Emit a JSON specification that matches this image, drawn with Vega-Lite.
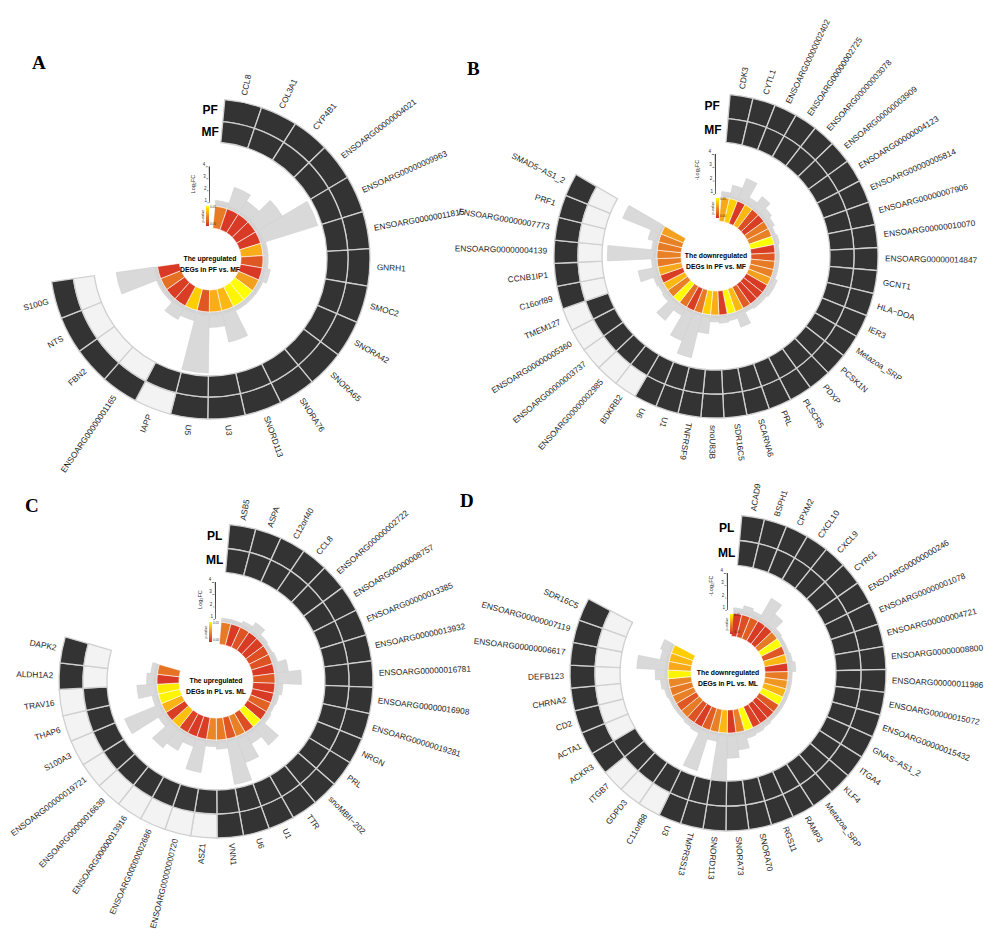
{
"$schema": "https://vega.github.io/schema/vega-lite/v6.json",
"padding": 0,
"background": "white",
"bounds": "flush",
"align": "each",
"columns": 2,
"spacing": 0,
"config": {"view": {"stroke": null}, "font": "Liberation Sans"},
"resolve": {"scale": {"color": "independent"}, "legend": {"color": "independent"}},
"datasets": {
"ticks": [{"v": 1}, {"v": 2}, {"v": 3}, {"v": 4}],
"A": [
{"gene":"CCL8","outer":1,"inner":1,"p":0.02,"fc":1.2},
{"gene":"COL3A1","outer":1,"inner":1,"p":0.003,"fc":2.6},
{"gene":"CYP4B1","outer":1,"inner":1,"p":0.003,"fc":2.0},
{"gene":"ENSOARG00000004021","outer":1,"inner":1,"p":0.003,"fc":3.3},
{"gene":"ENSOARG00000009963","outer":1,"inner":1,"p":0.003,"fc":5.7},
{"gene":"ENSOARG00000011815","outer":1,"inner":1,"p":0.033,"fc":1.15},
{"gene":"GNRH1","outer":1,"inner":1,"p":0.01,"fc":1.15},
{"gene":"SMOC2","outer":1,"inner":1,"p":0.003,"fc":1.4},
{"gene":"SNORA42","outer":1,"inner":1,"p":0.03,"fc":1.1},
{"gene":"SNORA65","outer":1,"inner":1,"p":0.05,"fc":1.1},
{"gene":"SNORA76","outer":1,"inner":1,"p":0.048,"fc":1.1},
{"gene":"SNORD113","outer":1,"inner":1,"p":0.035,"fc":3.4},
{"gene":"U3","outer":1,"inner":1,"p":0.033,"fc":2.0},
{"gene":"U5","outer":1,"inner":1,"p":0.01,"fc":5.8},
{"gene":"IAPP","outer":0,"inner":1,"p":0.04,"fc":1.6},
{"gene":"ENSOARG00000001165","outer":1,"inner":0,"p":0.004,"fc":2.0},
{"gene":"FBN2","outer":1,"inner":0,"p":0.004,"fc":1.1},
{"gene":"NTS","outer":1,"inner":0,"p":0.017,"fc":1.1},
{"gene":"S100G","outer":1,"inner":0,"p":0.003,"fc":4.2}
],
"B": [
{"gene":"CDK3","outer":1,"inner":1,"p":0.032,"fc":1.2},
{"gene":"CYTL1","outer":1,"inner":1,"p":0.04,"fc":1.8},
{"gene":"ENSOARG00000002402","outer":1,"inner":1,"p":0.003,"fc":2.6},
{"gene":"ENSOARG00000002725","outer":1,"inner":1,"p":0.035,"fc":1.4},
{"gene":"ENSOARG00000003078","outer":1,"inner":1,"p":0.008,"fc":2.0},
{"gene":"ENSOARG00000003909","outer":1,"inner":1,"p":0.004,"fc":1.5},
{"gene":"ENSOARG00000004123","outer":1,"inner":1,"p":0.02,"fc":1.3},
{"gene":"ENSOARG00000005814","outer":1,"inner":1,"p":0.022,"fc":1.1},
{"gene":"ENSOARG00000007906","outer":1,"inner":1,"p":0.05,"fc":1.2},
{"gene":"ENSOARG00000010070","outer":1,"inner":1,"p":0.004,"fc":1.1},
{"gene":"ENSOARG00000014847","outer":1,"inner":1,"p":0.01,"fc":1.1},
{"gene":"GCNT1","outer":1,"inner":1,"p":0.02,"fc":1.1},
{"gene":"HLA−DOA","outer":1,"inner":1,"p":0.022,"fc":1.1},
{"gene":"IER3","outer":1,"inner":1,"p":0.03,"fc":1.3},
{"gene":"Metazoa_SRP","outer":1,"inner":1,"p":0.003,"fc":1.3},
{"gene":"PCSK1N","outer":1,"inner":1,"p":0.004,"fc":1.2},
{"gene":"PDXP","outer":1,"inner":1,"p":0.003,"fc":1.2},
{"gene":"PLSCR5","outer":1,"inner":1,"p":0.012,"fc":1.1},
{"gene":"PRL","outer":1,"inner":1,"p":0.035,"fc":2.0},
{"gene":"SCARNA6","outer":1,"inner":1,"p":0.048,"fc":1.3},
{"gene":"SDR16C5","outer":1,"inner":1,"p":0.004,"fc":1.4},
{"gene":"snoU83B","outer":1,"inner":1,"p":0.033,"fc":1.3},
{"gene":"TNFRSF9","outer":1,"inner":1,"p":0.04,"fc":2.2},
{"gene":"U1","outer":1,"inner":1,"p":0.02,"fc":4.2},
{"gene":"U6","outer":1,"inner":1,"p":0.004,"fc":3.2},
{"gene":"BDKRB2","outer":0,"inner":1,"p":0.018,"fc":1.5},
{"gene":"ENSOARG00000002985","outer":0,"inner":1,"p":0.05,"fc":2.5},
{"gene":"ENSOARG00000003737","outer":0,"inner":1,"p":0.022,"fc":1.3},
{"gene":"ENSOARG00000005360","outer":0,"inner":1,"p":0.035,"fc":1.2},
{"gene":"TMEM127","outer":0,"inner":1,"p":0.004,"fc":1.3},
{"gene":"C16orf89","outer":1,"inner":0,"p":0.032,"fc":2.3},
{"gene":"CCNB1IP1","outer":1,"inner":0,"p":0.02,"fc":1.2},
{"gene":"ENSOARG00000004139","outer":1,"inner":0,"p":0.022,"fc":4.5},
{"gene":"ENSOARG00000007773","outer":1,"inner":0,"p":0.02,"fc":1.2},
{"gene":"PRF1","outer":1,"inner":0,"p":0.022,"fc":1.6},
{"gene":"SMAD5−AS1_2","outer":1,"inner":0,"p":0.03,"fc":3.9}
],
"C": [
{"gene":"ASB5","outer":1,"inner":1,"p":0.02,"fc":1.1},
{"gene":"ASPA","outer":1,"inner":1,"p":0.003,"fc":1.1},
{"gene":"C12orf40","outer":1,"inner":1,"p":0.009,"fc":1.3},
{"gene":"CCL8","outer":1,"inner":1,"p":0.003,"fc":1.7},
{"gene":"ENSOARG00000002722","outer":1,"inner":1,"p":0.004,"fc":1.2},
{"gene":"ENSOARG00000008757","outer":1,"inner":1,"p":0.008,"fc":1.1},
{"gene":"ENSOARG00000013385","outer":1,"inner":1,"p":0.009,"fc":1.2},
{"gene":"ENSOARG00000013932","outer":1,"inner":1,"p":0.003,"fc":1.9},
{"gene":"ENSOARG00000016781","outer":1,"inner":1,"p":0.01,"fc":2.9},
{"gene":"ENSOARG00000016908","outer":1,"inner":1,"p":0.004,"fc":1.4},
{"gene":"ENSOARG00000019281","outer":1,"inner":1,"p":0.003,"fc":1.2},
{"gene":"NRGN","outer":1,"inner":1,"p":0.013,"fc":1.1},
{"gene":"PRL","outer":1,"inner":1,"p":0.004,"fc":1.2},
{"gene":"snoMBII−202","outer":1,"inner":1,"p":0.05,"fc":2.7},
{"gene":"TTR","outer":1,"inner":1,"p":0.008,"fc":1.8},
{"gene":"U1","outer":1,"inner":1,"p":0.022,"fc":3.0},
{"gene":"U6","outer":1,"inner":1,"p":0.01,"fc":4.5},
{"gene":"VNN1","outer":1,"inner":1,"p":0.02,"fc":1.5},
{"gene":"ASZ1","outer":0,"inner":1,"p":0.024,"fc":1.3},
{"gene":"ENSOARG00000000720","outer":0,"inner":1,"p":0.004,"fc":3.5},
{"gene":"ENSOARG00000002686","outer":0,"inner":1,"p":0.003,"fc":1.6},
{"gene":"ENSOARG00000013916","outer":0,"inner":1,"p":0.005,"fc":2.4},
{"gene":"ENSOARG00000016639","outer":0,"inner":1,"p":0.037,"fc":2.9},
{"gene":"ENSOARG00000019721","outer":0,"inner":1,"p":0.004,"fc":1.5},
{"gene":"S100A3","outer":0,"inner":1,"p":0.034,"fc":4.0},
{"gene":"THAP6","outer":0,"inner":1,"p":0.048,"fc":1.3},
{"gene":"TRAV16","outer":0,"inner":1,"p":0.046,"fc":2.4},
{"gene":"ALDH1A2","outer":1,"inner":0,"p":0.003,"fc":1.6},
{"gene":"DAPK2","outer":1,"inner":0,"p":0.018,"fc":1.3}
],
"D": [
{"gene":"ACAD9","outer":1,"inner":1,"p":0.003,"fc":1.2},
{"gene":"BSPH1","outer":1,"inner":1,"p":0.008,"fc":1.5},
{"gene":"CPXM2","outer":1,"inner":1,"p":0.012,"fc":1.3},
{"gene":"CXCL10","outer":1,"inner":1,"p":0.003,"fc":2.9},
{"gene":"CXCL9","outer":1,"inner":1,"p":0.004,"fc":2.0},
{"gene":"CYR61","outer":1,"inner":1,"p":0.02,"fc":1.2},
{"gene":"ENSOARG00000000246","outer":1,"inner":1,"p":0.05,"fc":1.1},
{"gene":"ENSOARG00000001078","outer":1,"inner":1,"p":0.01,"fc":1.1},
{"gene":"ENSOARG00000004721","outer":1,"inner":1,"p":0.035,"fc":1.2},
{"gene":"ENSOARG00000008800","outer":1,"inner":1,"p":0.003,"fc":1.4},
{"gene":"ENSOARG00000011986","outer":1,"inner":1,"p":0.02,"fc":1.1},
{"gene":"ENSOARG00000015072","outer":1,"inner":1,"p":0.028,"fc":1.1},
{"gene":"ENSOARG00000015432","outer":1,"inner":1,"p":0.034,"fc":1.1},
{"gene":"GNAS−AS1_2","outer":1,"inner":1,"p":0.05,"fc":1.1},
{"gene":"ITGA4","outer":1,"inner":1,"p":0.01,"fc":1.1},
{"gene":"KLF4","outer":1,"inner":1,"p":0.004,"fc":1.1},
{"gene":"Metazoa_SRP","outer":1,"inner":1,"p":0.003,"fc":1.2},
{"gene":"RAMP3","outer":1,"inner":1,"p":0.005,"fc":1.3},
{"gene":"RGS11","outer":1,"inner":1,"p":0.05,"fc":1.4},
{"gene":"SNORA70","outer":1,"inner":1,"p":0.022,"fc":2.2},
{"gene":"SNORA73","outer":1,"inner":1,"p":0.003,"fc":2.8},
{"gene":"SNORD113","outer":1,"inner":1,"p":0.035,"fc":4.6},
{"gene":"TMPRSS13","outer":1,"inner":1,"p":0.022,"fc":1.5},
{"gene":"U3","outer":1,"inner":1,"p":0.012,"fc":4.2},
{"gene":"C11orf88","outer":0,"inner":1,"p":0.004,"fc":1.3},
{"gene":"GDPD3","outer":0,"inner":1,"p":0.009,"fc":1.2},
{"gene":"ITGB7","outer":0,"inner":1,"p":0.02,"fc":1.1},
{"gene":"ACKR3","outer":1,"inner":1,"p":0.01,"fc":1.1},
{"gene":"ACTA1","outer":1,"inner":0,"p":0.022,"fc":1.1},
{"gene":"CD2","outer":1,"inner":0,"p":0.02,"fc":1.2},
{"gene":"CHRNA2","outer":1,"inner":0,"p":0.024,"fc":1.4},
{"gene":"DEFB123","outer":1,"inner":0,"p":0.048,"fc":1.8},
{"gene":"ENSOARG00000006617","outer":1,"inner":0,"p":0.032,"fc":3.3},
{"gene":"ENSOARG00000007119","outer":1,"inner":0,"p":0.035,"fc":1.5},
{"gene":"SDR16C5","outer":1,"inner":0,"p":0.04,"fc":1.7}
]
},
"concat": [
{
"width": 420, "height": 518,
"title": {"text": "A", "anchor": "start", "frame": "group", "orient": "top", "offset": -88, "dx": 32, "baseline": "alphabetic", "font": "Liberation Serif", "fontSize": 19, "fontWeight": "bold", "color": "black"},
"data": {"name": "A"},
"transform": [
{"window": [{"op": "row_number", "as": "k"}]},
{"calculate": "5.3 + (datum.k - 1) * 13.5", "as": "t0"},
{"calculate": "datum.t0 + 13.5", "as": "t1"},
{"calculate": "datum.t0 + 6.75", "as": "tm"},
{"calculate": "datum.tm < 195 ? datum.tm - 90 : datum.tm + 90", "as": "ang"}
],
"layer": [
{"mark": {"type": "arc", "radius": 160, "radius2": 138, "stroke": "#d0d0d0", "strokeWidth": 1.3},
 "encoding": {"theta": {"field": "t0", "type": "quantitative", "stack": null, "scale": {"type": "linear", "domain": [0, 360], "range": [0, 6.2831853]}}, "theta2": {"field": "t1"},
  "fill": {"condition": {"test": "datum.outer == 1", "value": "#333333"}, "value": "#f3f3f3"}}},
{"mark": {"type": "arc", "radius": 138, "radius2": 117, "stroke": "#d0d0d0", "strokeWidth": 1.3},
 "encoding": {"theta": {"field": "t0", "type": "quantitative", "stack": null, "scale": {"type": "linear", "domain": [0, 360], "range": [0, 6.2831853]}}, "theta2": {"field": "t1"},
  "fill": {"condition": {"test": "datum.inner == 1", "value": "#333333"}, "value": "#f3f3f3"}}},
{"mark": {"type": "arc", "radius": 56.5, "radius2": 53, "fill": "#d3d3d3"},
 "encoding": {"theta": {"field": "t0", "type": "quantitative", "stack": null, "scale": {"type": "linear", "domain": [0, 360], "range": [0, 6.2831853]}}, "theta2": {"field": "t1"}}},
{"mark": {"type": "arc", "radius": 53, "radius2": 31, "stroke": "white", "strokeWidth": 0.6},
 "encoding": {"theta": {"field": "t0", "type": "quantitative", "stack": null, "scale": {"type": "linear", "domain": [0, 360], "range": [0, 6.2831853]}}, "theta2": {"field": "t1"},
  "color": {"field": "p", "type": "quantitative", "scale": {"domain": [0, 0.025, 0.05], "range": ["#d42a26", "#ea8a28", "#ffff00"]},
   "legend": {"orient": "none", "legendX": 201, "legendY": 206, "direction": "vertical", "gradientLength": 20, "gradientThickness": 3, "title": "p-value", "titleOrient": "left", "titleFontSize": 4, "titleFontWeight": "normal", "titleColor": "#333", "titlePadding": 1, "labelFontSize": 3, "labelColor": "#333", "labelOffset": 1, "values": [0, 0.05], "labelOverlap": false, "gradientStrokeWidth": 0}}}},
{"mark": {"type": "arc", "fill": "#d9d9d9", "stroke": "#cccccc", "strokeWidth": 0.5},
 "encoding": {"theta": {"field": "t0", "type": "quantitative", "stack": null, "scale": {"type": "linear", "domain": [0, 360], "range": [0, 6.2831853]}}, "theta2": {"field": "t1"},
  "radius": {"field": "fc", "type": "quantitative", "scale": {"type": "linear", "domain": [1, 4], "range": [56.5, 92.5], "zero": false}}, "radius2": {"datum": 1}}},
{"transform": [{"filter": "datum.tm < 195"}],
 "mark": {"type": "text", "radius": 167, "align": "left", "baseline": "middle", "fontSize": 8.3, "color": "#1e1e1e"},
 "encoding": {"theta": {"field": "tm", "type": "quantitative", "stack": null, "scale": {"type": "linear", "domain": [0, 360], "range": [0, 6.2831853]}}, "text": {"field": "gene"}, "angle": {"field": "ang", "type": "quantitative", "scale": null}}},
{"transform": [{"filter": "datum.tm >= 195"}],
 "mark": {"type": "text", "radius": 167, "align": "right", "baseline": "middle", "fontSize": 8.3, "color": "#1e1e1e"},
 "encoding": {"theta": {"field": "tm", "type": "quantitative", "stack": null, "scale": {"type": "linear", "domain": [0, 360], "range": [0, 6.2831853]}}, "text": {"field": "gene"}, "angle": {"field": "ang", "type": "quantitative", "scale": null}}},
{"data": {"values": [{}]}, "mark": {"type": "text", "text": ["The upregulated", "DEGs in PF vs. MF"], "fontSize": 6.8, "fontWeight": "bold", "lineHeight": 11, "align": "center", "baseline": "middle", "color": "black"}, "encoding": {}},
{"data": {"values": [{}]}, "mark": {"type": "text", "text": "PF", "radius": 149, "align": "right", "baseline": "middle", "fontSize": 12, "fontWeight": "bold", "color": "black"},
 "encoding": {"theta": {"datum": 3, "type": "quantitative", "scale": {"type": "linear", "domain": [0, 360], "range": [0, 6.2831853]}}}},
{"data": {"values": [{}]}, "mark": {"type": "text", "text": "MF", "radius": 127.5, "align": "right", "baseline": "middle", "fontSize": 12, "fontWeight": "bold", "color": "black"},
 "encoding": {"theta": {"datum": 4, "type": "quantitative", "scale": {"type": "linear", "domain": [0, 360], "range": [0, 6.2831853]}}}},
{"data": {"values": [{}]}, "mark": {"type": "arc", "fill": "#222222"},
 "encoding": {"theta": {"datum": -0.75, "type": "quantitative", "scale": {"type": "linear", "domain": [0, 360], "range": [0, 6.2831853]}}, "theta2": {"datum": -0.1},
  "radius": {"datum": 1, "type": "quantitative", "scale": {"type": "linear", "domain": [1, 4], "range": [56.5, 92.5], "zero": false}}, "radius2": {"datum": 4}}},
{"data": {"name": "ticks"}, "transform": [{"calculate": "datum.v - 0.05", "as": "v2"}], "mark": {"type": "arc", "fill": "#555555"},
 "encoding": {"theta": {"datum": -2.6, "type": "quantitative", "scale": {"type": "linear", "domain": [0, 360], "range": [0, 6.2831853]}}, "theta2": {"datum": -1.2},
  "radius": {"field": "v", "type": "quantitative", "scale": {"type": "linear", "domain": [1, 4], "range": [56.5, 92.5], "zero": false}}, "radius2": {"field": "v2"}}},
{"data": {"name": "ticks"}, "mark": {"type": "text", "fontSize": 4.5, "align": "right", "baseline": "bottom", "color": "#333"},
 "encoding": {"theta": {"datum": -3, "type": "quantitative", "scale": {"type": "linear", "domain": [0, 360], "range": [0, 6.2831853]}},
  "radius": {"field": "v", "type": "quantitative", "scale": {"type": "linear", "domain": [1, 4], "range": [56.5, 92.5], "zero": false}}, "text": {"field": "v", "type": "quantitative"}}},
{"data": {"values": [{}]}, "mark": {"type": "text", "text": "Log₂FC", "angle": 270, "fontSize": 5.5, "align": "center", "baseline": "middle", "color": "#333"},
 "encoding": {"theta": {"datum": -13, "type": "quantitative", "scale": {"type": "linear", "domain": [0, 360], "range": [0, 6.2831853]}},
  "radius": {"datum": 2.7, "type": "quantitative", "scale": {"type": "linear", "domain": [1, 4], "range": [56.5, 92.5], "zero": false}}}}
]
},
{
"width": 568, "height": 512,
"title": {"text": "B", "anchor": "start", "frame": "group", "orient": "top", "offset": -94, "dx": 35, "baseline": "alphabetic", "font": "Liberation Serif", "fontSize": 19, "fontWeight": "bold", "color": "black"},
"data": {"name": "B"},
"transform": [
{"window": [{"op": "row_number", "as": "k"}]},
{"calculate": "5 + (datum.k - 1) * 8.2", "as": "t0"},
{"calculate": "datum.t0 + 8.2", "as": "t1"},
{"calculate": "datum.t0 + 4.1", "as": "tm"},
{"calculate": "datum.tm < 208 ? datum.tm - 90 : datum.tm + 90", "as": "ang"}
],
"layer": [
{"mark": {"type": "arc", "radius": 162, "radius2": 138, "stroke": "#d0d0d0", "strokeWidth": 1.3},
 "encoding": {"theta": {"field": "t0", "type": "quantitative", "stack": null, "scale": {"type": "linear", "domain": [0, 360], "range": [0, 6.2831853]}}, "theta2": {"field": "t1"},
  "fill": {"condition": {"test": "datum.outer == 1", "value": "#333333"}, "value": "#f3f3f3"}}},
{"mark": {"type": "arc", "radius": 138, "radius2": 114, "stroke": "#d0d0d0", "strokeWidth": 1.3},
 "encoding": {"theta": {"field": "t0", "type": "quantitative", "stack": null, "scale": {"type": "linear", "domain": [0, 360], "range": [0, 6.2831853]}}, "theta2": {"field": "t1"},
  "fill": {"condition": {"test": "datum.inner == 1", "value": "#333333"}, "value": "#f3f3f3"}}},
{"mark": {"type": "arc", "radius": 62, "radius2": 59, "fill": "#d3d3d3"},
 "encoding": {"theta": {"field": "t0", "type": "quantitative", "stack": null, "scale": {"type": "linear", "domain": [0, 360], "range": [0, 6.2831853]}}, "theta2": {"field": "t1"}}},
{"mark": {"type": "arc", "radius": 59, "radius2": 35, "stroke": "white", "strokeWidth": 0.6},
 "encoding": {"theta": {"field": "t0", "type": "quantitative", "stack": null, "scale": {"type": "linear", "domain": [0, 360], "range": [0, 6.2831853]}}, "theta2": {"field": "t1"},
  "color": {"field": "p", "type": "quantitative", "scale": {"domain": [0, 0.025, 0.05], "range": ["#d42a26", "#ea8a28", "#ffff00"]},
   "legend": {"orient": "none", "legendX": 279, "legendY": 198, "direction": "vertical", "gradientLength": 20, "gradientThickness": 3, "title": "p-value", "titleOrient": "left", "titleFontSize": 4, "titleFontWeight": "normal", "titleColor": "#333", "titlePadding": 1, "labelFontSize": 3, "labelColor": "#333", "labelOffset": 1, "values": [0, 0.05], "labelOverlap": false, "gradientStrokeWidth": 0}}}},
{"mark": {"type": "arc", "fill": "#d9d9d9", "stroke": "#cccccc", "strokeWidth": 0.5},
 "encoding": {"theta": {"field": "t0", "type": "quantitative", "stack": null, "scale": {"type": "linear", "domain": [0, 360], "range": [0, 6.2831853]}}, "theta2": {"field": "t1"},
  "radius": {"field": "fc", "type": "quantitative", "scale": {"type": "linear", "domain": [1, 4], "range": [62, 102], "zero": false}}, "radius2": {"datum": 1}}},
{"transform": [{"filter": "datum.tm < 208"}],
 "mark": {"type": "text", "radius": 169, "align": "left", "baseline": "middle", "fontSize": 8.3, "color": "#1e1e1e"},
 "encoding": {"theta": {"field": "tm", "type": "quantitative", "stack": null, "scale": {"type": "linear", "domain": [0, 360], "range": [0, 6.2831853]}}, "text": {"field": "gene"}, "angle": {"field": "ang", "type": "quantitative", "scale": null}}},
{"transform": [{"filter": "datum.tm >= 208"}],
 "mark": {"type": "text", "radius": 169, "align": "right", "baseline": "middle", "fontSize": 8.3, "color": "#1e1e1e"},
 "encoding": {"theta": {"field": "tm", "type": "quantitative", "stack": null, "scale": {"type": "linear", "domain": [0, 360], "range": [0, 6.2831853]}}, "text": {"field": "gene"}, "angle": {"field": "ang", "type": "quantitative", "scale": null}}},
{"data": {"values": [{}]}, "mark": {"type": "text", "text": ["The downregulated", "DEGs in PF vs. MF"], "fontSize": 6.8, "fontWeight": "bold", "lineHeight": 11, "align": "center", "baseline": "middle", "color": "black"}, "encoding": {}},
{"data": {"values": [{}]}, "mark": {"type": "text", "text": "PF", "radius": 150, "align": "right", "baseline": "middle", "fontSize": 12, "fontWeight": "bold", "color": "black"},
 "encoding": {"theta": {"datum": 1.5, "type": "quantitative", "scale": {"type": "linear", "domain": [0, 360], "range": [0, 6.2831853]}}}},
{"data": {"values": [{}]}, "mark": {"type": "text", "text": "MF", "radius": 126, "align": "right", "baseline": "middle", "fontSize": 12, "fontWeight": "bold", "color": "black"},
 "encoding": {"theta": {"datum": 2.5, "type": "quantitative", "scale": {"type": "linear", "domain": [0, 360], "range": [0, 6.2831853]}}}},
{"data": {"values": [{}]}, "mark": {"type": "arc", "fill": "#222222"},
 "encoding": {"theta": {"datum": -0.7, "type": "quantitative", "scale": {"type": "linear", "domain": [0, 360], "range": [0, 6.2831853]}}, "theta2": {"datum": -0.1},
  "radius": {"datum": 1, "type": "quantitative", "scale": {"type": "linear", "domain": [1, 4], "range": [62, 102], "zero": false}}, "radius2": {"datum": 4}}},
{"data": {"name": "ticks"}, "transform": [{"calculate": "datum.v - 0.05", "as": "v2"}], "mark": {"type": "arc", "fill": "#555555"},
 "encoding": {"theta": {"datum": -2.4, "type": "quantitative", "scale": {"type": "linear", "domain": [0, 360], "range": [0, 6.2831853]}}, "theta2": {"datum": -1.1},
  "radius": {"field": "v", "type": "quantitative", "scale": {"type": "linear", "domain": [1, 4], "range": [62, 102], "zero": false}}, "radius2": {"field": "v2"}}},
{"data": {"name": "ticks"}, "mark": {"type": "text", "fontSize": 4.5, "align": "right", "baseline": "bottom", "color": "#333"},
 "encoding": {"theta": {"datum": -2.8, "type": "quantitative", "scale": {"type": "linear", "domain": [0, 360], "range": [0, 6.2831853]}},
  "radius": {"field": "v", "type": "quantitative", "scale": {"type": "linear", "domain": [1, 4], "range": [62, 102], "zero": false}}, "text": {"field": "v", "type": "quantitative"}}},
{"data": {"values": [{}]}, "mark": {"type": "text", "text": "-Log₂FC", "angle": 270, "fontSize": 5.5, "align": "center", "baseline": "middle", "color": "#333"},
 "encoding": {"theta": {"datum": -12.5, "type": "quantitative", "scale": {"type": "linear", "domain": [0, 360], "range": [0, 6.2831853]}},
  "radius": {"datum": 2.95, "type": "quantitative", "scale": {"type": "linear", "domain": [1, 4], "range": [62, 102], "zero": false}}}}
]
},
{
"width": 432, "height": 326,
"title": {"text": "C", "anchor": "start", "frame": "group", "orient": "top", "offset": -32, "dx": 25, "baseline": "alphabetic", "font": "Liberation Serif", "fontSize": 19, "fontWeight": "bold", "color": "black"},
"data": {"name": "C"},
"transform": [
{"window": [{"op": "row_number", "as": "k"}]},
{"calculate": "5 + (datum.k - 1) * 9.7", "as": "t0"},
{"calculate": "datum.t0 + 9.7", "as": "t1"},
{"calculate": "datum.t0 + 4.85", "as": "tm"},
{"calculate": "datum.tm < 180 ? datum.tm - 90 : datum.tm + 90", "as": "ang"}
],
"layer": [
{"mark": {"type": "arc", "radius": 157, "radius2": 133, "stroke": "#d0d0d0", "strokeWidth": 1.3},
 "encoding": {"theta": {"field": "t0", "type": "quantitative", "stack": null, "scale": {"type": "linear", "domain": [0, 360], "range": [0, 6.2831853]}}, "theta2": {"field": "t1"},
  "fill": {"condition": {"test": "datum.outer == 1", "value": "#333333"}, "value": "#f3f3f3"}}},
{"mark": {"type": "arc", "radius": 133, "radius2": 109, "stroke": "#d0d0d0", "strokeWidth": 1.3},
 "encoding": {"theta": {"field": "t0", "type": "quantitative", "stack": null, "scale": {"type": "linear", "domain": [0, 360], "range": [0, 6.2831853]}}, "theta2": {"field": "t1"},
  "fill": {"condition": {"test": "datum.inner == 1", "value": "#333333"}, "value": "#f3f3f3"}}},
{"mark": {"type": "arc", "radius": 62, "radius2": 59, "fill": "#d3d3d3"},
 "encoding": {"theta": {"field": "t0", "type": "quantitative", "stack": null, "scale": {"type": "linear", "domain": [0, 360], "range": [0, 6.2831853]}}, "theta2": {"field": "t1"}}},
{"mark": {"type": "arc", "radius": 59, "radius2": 37, "stroke": "white", "strokeWidth": 0.6},
 "encoding": {"theta": {"field": "t0", "type": "quantitative", "stack": null, "scale": {"type": "linear", "domain": [0, 360], "range": [0, 6.2831853]}}, "theta2": {"field": "t1"},
  "color": {"field": "p", "type": "quantitative", "scale": {"domain": [0, 0.025, 0.05], "range": ["#d42a26", "#ea8a28", "#ffff00"]},
   "legend": {"orient": "none", "legendX": 204, "legendY": 104, "direction": "vertical", "gradientLength": 20, "gradientThickness": 3, "title": "p-value", "titleOrient": "left", "titleFontSize": 4, "titleFontWeight": "normal", "titleColor": "#333", "titlePadding": 1, "labelFontSize": 3, "labelColor": "#333", "labelOffset": 1, "values": [0, 0.05], "labelOverlap": false, "gradientStrokeWidth": 0}}}},
{"mark": {"type": "arc", "fill": "#d9d9d9", "stroke": "#cccccc", "strokeWidth": 0.5},
 "encoding": {"theta": {"field": "t0", "type": "quantitative", "stack": null, "scale": {"type": "linear", "domain": [0, 360], "range": [0, 6.2831853]}}, "theta2": {"field": "t1"},
  "radius": {"field": "fc", "type": "quantitative", "scale": {"type": "linear", "domain": [1, 4], "range": [62, 99], "zero": false}}, "radius2": {"datum": 1}}},
{"transform": [{"filter": "datum.tm < 180"}],
 "mark": {"type": "text", "radius": 163, "align": "left", "baseline": "middle", "fontSize": 8.3, "color": "#1e1e1e"},
 "encoding": {"theta": {"field": "tm", "type": "quantitative", "stack": null, "scale": {"type": "linear", "domain": [0, 360], "range": [0, 6.2831853]}}, "text": {"field": "gene"}, "angle": {"field": "ang", "type": "quantitative", "scale": null}}},
{"transform": [{"filter": "datum.tm >= 180"}],
 "mark": {"type": "text", "radius": 163, "align": "right", "baseline": "middle", "fontSize": 8.3, "color": "#1e1e1e"},
 "encoding": {"theta": {"field": "tm", "type": "quantitative", "stack": null, "scale": {"type": "linear", "domain": [0, 360], "range": [0, 6.2831853]}}, "text": {"field": "gene"}, "angle": {"field": "ang", "type": "quantitative", "scale": null}}},
{"data": {"values": [{}]}, "mark": {"type": "text", "text": ["The upregulated", "DEGs in PL vs. ML"], "fontSize": 6.8, "fontWeight": "bold", "lineHeight": 11, "align": "center", "baseline": "middle", "color": "black"}, "encoding": {}},
{"data": {"values": [{}]}, "mark": {"type": "text", "text": "PL", "radius": 145, "align": "right", "baseline": "middle", "fontSize": 12, "fontWeight": "bold", "color": "black"},
 "encoding": {"theta": {"datum": 2.5, "type": "quantitative", "scale": {"type": "linear", "domain": [0, 360], "range": [0, 6.2831853]}}}},
{"data": {"values": [{}]}, "mark": {"type": "text", "text": "ML", "radius": 121, "align": "right", "baseline": "middle", "fontSize": 12, "fontWeight": "bold", "color": "black"},
 "encoding": {"theta": {"datum": 3.5, "type": "quantitative", "scale": {"type": "linear", "domain": [0, 360], "range": [0, 6.2831853]}}}},
{"data": {"values": [{}]}, "mark": {"type": "arc", "fill": "#222222"},
 "encoding": {"theta": {"datum": -0.7, "type": "quantitative", "scale": {"type": "linear", "domain": [0, 360], "range": [0, 6.2831853]}}, "theta2": {"datum": -0.1},
  "radius": {"datum": 1, "type": "quantitative", "scale": {"type": "linear", "domain": [1, 4], "range": [62, 99], "zero": false}}, "radius2": {"datum": 4}}},
{"data": {"name": "ticks"}, "transform": [{"calculate": "datum.v - 0.05", "as": "v2"}], "mark": {"type": "arc", "fill": "#555555"},
 "encoding": {"theta": {"datum": -2.4, "type": "quantitative", "scale": {"type": "linear", "domain": [0, 360], "range": [0, 6.2831853]}}, "theta2": {"datum": -1.1},
  "radius": {"field": "v", "type": "quantitative", "scale": {"type": "linear", "domain": [1, 4], "range": [62, 99], "zero": false}}, "radius2": {"field": "v2"}}},
{"data": {"name": "ticks"}, "mark": {"type": "text", "fontSize": 4.5, "align": "right", "baseline": "bottom", "color": "#333"},
 "encoding": {"theta": {"datum": -2.8, "type": "quantitative", "scale": {"type": "linear", "domain": [0, 360], "range": [0, 6.2831853]}},
  "radius": {"field": "v", "type": "quantitative", "scale": {"type": "linear", "domain": [1, 4], "range": [62, 99], "zero": false}}, "text": {"field": "v", "type": "quantitative"}}},
{"data": {"values": [{}]}, "mark": {"type": "text", "text": "Log₂FC", "angle": 270, "fontSize": 5.5, "align": "center", "baseline": "middle", "color": "#333"},
 "encoding": {"theta": {"datum": -11, "type": "quantitative", "scale": {"type": "linear", "domain": [0, 360], "range": [0, 6.2831853]}},
  "radius": {"datum": 2.7, "type": "quantitative", "scale": {"type": "linear", "domain": [1, 4], "range": [62, 99], "zero": false}}}}
]
},
{
"width": 592, "height": 310,
"title": {"text": "D", "anchor": "start", "frame": "group", "orient": "top", "offset": -43, "dx": 28, "baseline": "alphabetic", "font": "Liberation Serif", "fontSize": 19, "fontWeight": "bold", "color": "black"},
"data": {"name": "D"},
"transform": [
{"window": [{"op": "row_number", "as": "k"}]},
{"calculate": "5 + (datum.k - 1) * 8.37", "as": "t0"},
{"calculate": "datum.t0 + 8.37", "as": "t1"},
{"calculate": "datum.t0 + 4.185", "as": "tm"},
{"calculate": "datum.tm < 206 ? datum.tm - 90 : datum.tm + 90", "as": "ang"}
],
"layer": [
{"mark": {"type": "arc", "radius": 158, "radius2": 133, "stroke": "#d0d0d0", "strokeWidth": 1.3},
 "encoding": {"theta": {"field": "t0", "type": "quantitative", "stack": null, "scale": {"type": "linear", "domain": [0, 360], "range": [0, 6.2831853]}}, "theta2": {"field": "t1"},
  "fill": {"condition": {"test": "datum.outer == 1", "value": "#333333"}, "value": "#f3f3f3"}}},
{"mark": {"type": "arc", "radius": 133, "radius2": 108, "stroke": "#d0d0d0", "strokeWidth": 1.3},
 "encoding": {"theta": {"field": "t0", "type": "quantitative", "stack": null, "scale": {"type": "linear", "domain": [0, 360], "range": [0, 6.2831853]}}, "theta2": {"field": "t1"},
  "fill": {"condition": {"test": "datum.inner == 1", "value": "#333333"}, "value": "#f3f3f3"}}},
{"mark": {"type": "arc", "radius": 63, "radius2": 60, "fill": "#d3d3d3"},
 "encoding": {"theta": {"field": "t0", "type": "quantitative", "stack": null, "scale": {"type": "linear", "domain": [0, 360], "range": [0, 6.2831853]}}, "theta2": {"field": "t1"}}},
{"mark": {"type": "arc", "radius": 60, "radius2": 37, "stroke": "white", "strokeWidth": 0.6},
 "encoding": {"theta": {"field": "t0", "type": "quantitative", "stack": null, "scale": {"type": "linear", "domain": [0, 360], "range": [0, 6.2831853]}}, "theta2": {"field": "t1"},
  "color": {"field": "p", "type": "quantitative", "scale": {"domain": [0, 0.025, 0.05], "range": ["#d42a26", "#ea8a28", "#ffff00"]},
   "legend": {"orient": "none", "legendX": 293, "legendY": 96, "direction": "vertical", "gradientLength": 20, "gradientThickness": 3, "title": "p-value", "titleOrient": "left", "titleFontSize": 4, "titleFontWeight": "normal", "titleColor": "#333", "titlePadding": 1, "labelFontSize": 3, "labelColor": "#333", "labelOffset": 1, "values": [0, 0.05], "labelOverlap": false, "gradientStrokeWidth": 0}}}},
{"mark": {"type": "arc", "fill": "#d9d9d9", "stroke": "#cccccc", "strokeWidth": 0.5},
 "encoding": {"theta": {"field": "t0", "type": "quantitative", "stack": null, "scale": {"type": "linear", "domain": [0, 360], "range": [0, 6.2831853]}}, "theta2": {"field": "t1"},
  "radius": {"field": "fc", "type": "quantitative", "scale": {"type": "linear", "domain": [1, 4], "range": [63, 100], "zero": false}}, "radius2": {"datum": 1}}},
{"transform": [{"filter": "datum.tm < 206"}],
 "mark": {"type": "text", "radius": 164, "align": "left", "baseline": "middle", "fontSize": 8.3, "color": "#1e1e1e"},
 "encoding": {"theta": {"field": "tm", "type": "quantitative", "stack": null, "scale": {"type": "linear", "domain": [0, 360], "range": [0, 6.2831853]}}, "text": {"field": "gene"}, "angle": {"field": "ang", "type": "quantitative", "scale": null}}},
{"transform": [{"filter": "datum.tm >= 206"}],
 "mark": {"type": "text", "radius": 164, "align": "right", "baseline": "middle", "fontSize": 8.3, "color": "#1e1e1e"},
 "encoding": {"theta": {"field": "tm", "type": "quantitative", "stack": null, "scale": {"type": "linear", "domain": [0, 360], "range": [0, 6.2831853]}}, "text": {"field": "gene"}, "angle": {"field": "ang", "type": "quantitative", "scale": null}}},
{"data": {"values": [{}]}, "mark": {"type": "text", "text": ["The downregulated", "DEGs in PL vs. ML"], "fontSize": 6.8, "fontWeight": "bold", "lineHeight": 11, "align": "center", "baseline": "middle", "color": "black"}, "encoding": {}},
{"data": {"values": [{}]}, "mark": {"type": "text", "text": "PL", "radius": 145.5, "align": "right", "baseline": "middle", "fontSize": 12, "fontWeight": "bold", "color": "black"},
 "encoding": {"theta": {"datum": 2.5, "type": "quantitative", "scale": {"type": "linear", "domain": [0, 360], "range": [0, 6.2831853]}}}},
{"data": {"values": [{}]}, "mark": {"type": "text", "text": "ML", "radius": 120.5, "align": "right", "baseline": "middle", "fontSize": 12, "fontWeight": "bold", "color": "black"},
 "encoding": {"theta": {"datum": 3.5, "type": "quantitative", "scale": {"type": "linear", "domain": [0, 360], "range": [0, 6.2831853]}}}},
{"data": {"values": [{}]}, "mark": {"type": "arc", "fill": "#222222"},
 "encoding": {"theta": {"datum": -0.7, "type": "quantitative", "scale": {"type": "linear", "domain": [0, 360], "range": [0, 6.2831853]}}, "theta2": {"datum": -0.1},
  "radius": {"datum": 1, "type": "quantitative", "scale": {"type": "linear", "domain": [1, 4], "range": [63, 100], "zero": false}}, "radius2": {"datum": 4}}},
{"data": {"name": "ticks"}, "transform": [{"calculate": "datum.v - 0.05", "as": "v2"}], "mark": {"type": "arc", "fill": "#555555"},
 "encoding": {"theta": {"datum": -2.4, "type": "quantitative", "scale": {"type": "linear", "domain": [0, 360], "range": [0, 6.2831853]}}, "theta2": {"datum": -1.1},
  "radius": {"field": "v", "type": "quantitative", "scale": {"type": "linear", "domain": [1, 4], "range": [63, 100], "zero": false}}, "radius2": {"field": "v2"}}},
{"data": {"name": "ticks"}, "mark": {"type": "text", "fontSize": 4.5, "align": "right", "baseline": "bottom", "color": "#333"},
 "encoding": {"theta": {"datum": -2.8, "type": "quantitative", "scale": {"type": "linear", "domain": [0, 360], "range": [0, 6.2831853]}},
  "radius": {"field": "v", "type": "quantitative", "scale": {"type": "linear", "domain": [1, 4], "range": [63, 100], "zero": false}}, "text": {"field": "v", "type": "quantitative"}}},
{"data": {"values": [{}]}, "mark": {"type": "text", "text": "-Log₂FC", "angle": 270, "fontSize": 5.5, "align": "center", "baseline": "middle", "color": "#333"},
 "encoding": {"theta": {"datum": -11, "type": "quantitative", "scale": {"type": "linear", "domain": [0, 360], "range": [0, 6.2831853]}},
  "radius": {"datum": 3.1, "type": "quantitative", "scale": {"type": "linear", "domain": [1, 4], "range": [63, 100], "zero": false}}}}
]
}
]
}
